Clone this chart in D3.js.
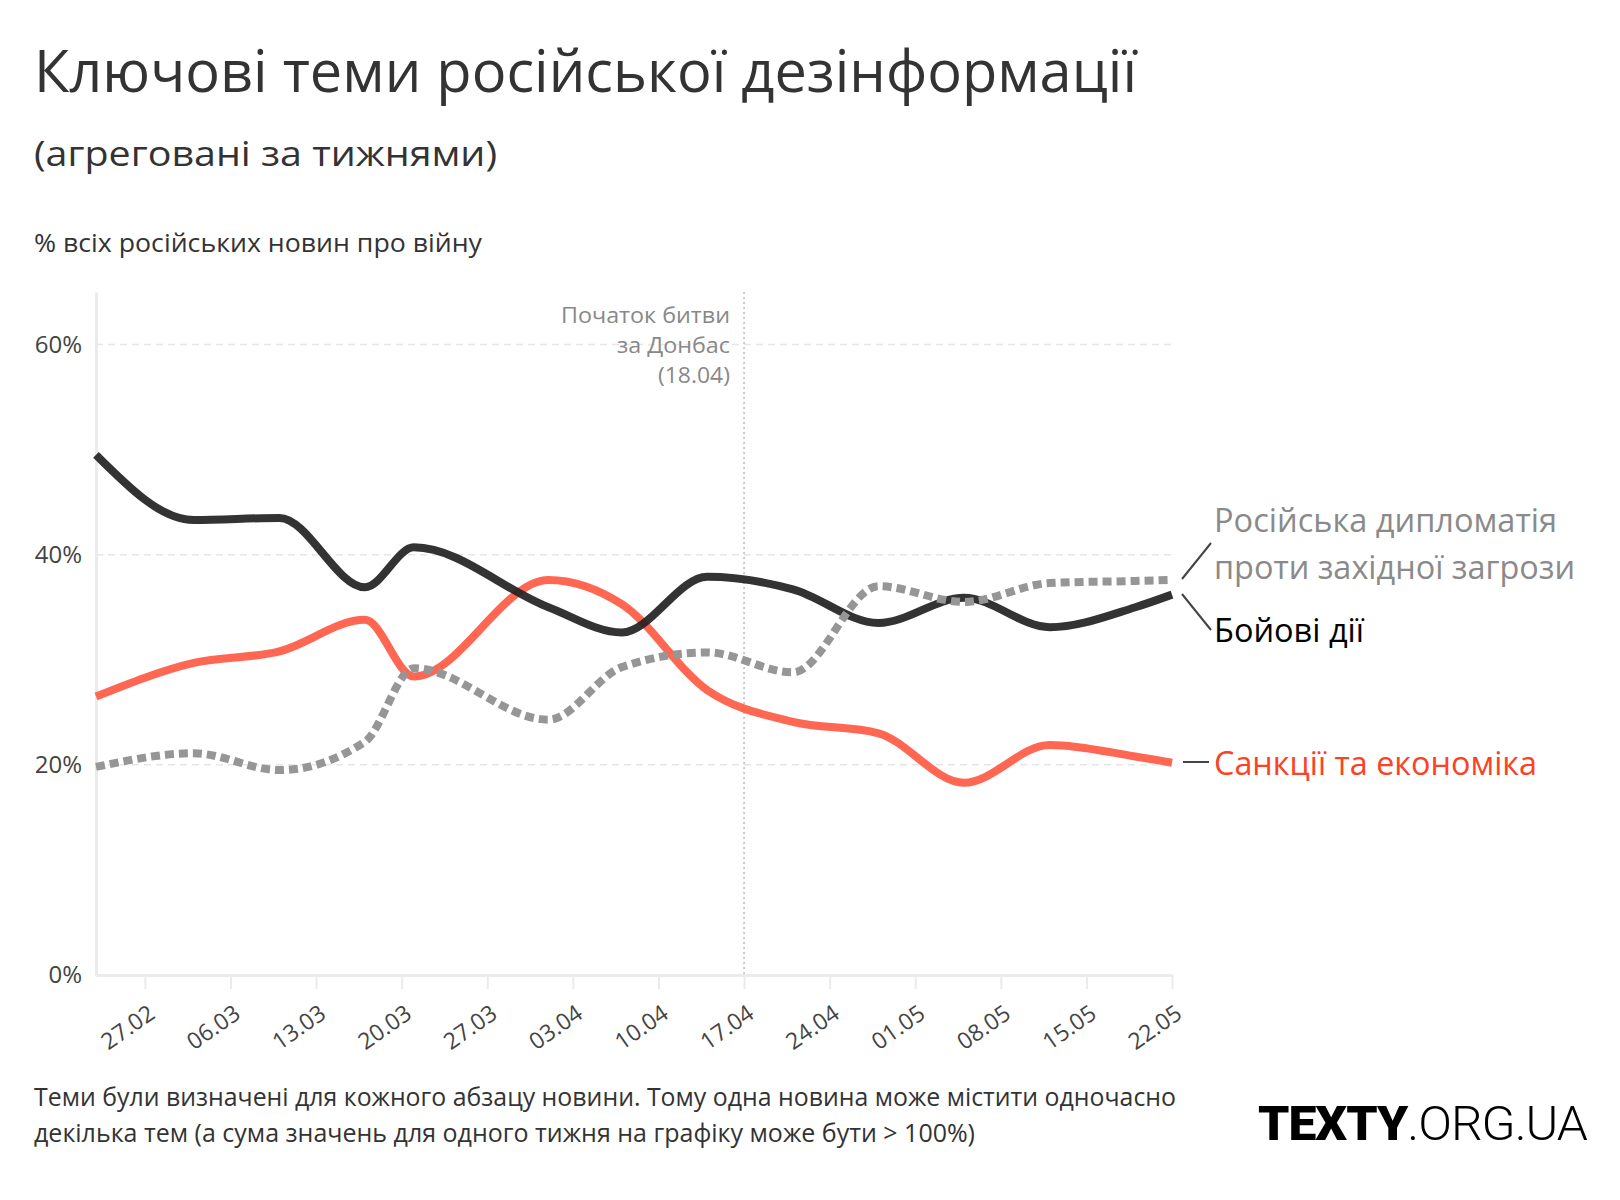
<!DOCTYPE html>
<html>
<head>
<meta charset="utf-8">
<script src="https://cdn.jsdelivr.net/npm/d3@7"></script>
<style>
  html, body { margin: 0; padding: 0; background: #fff; }
  svg { display: block; font-family: "Open Sans", "Noto Sans", sans-serif; }
</style>
</head>
<body>
<svg id="chart" width="1620" height="1200"></svg>
<script>
// ---- data ----
const dates = ["2022-02-23","2022-03-03","2022-03-10","2022-03-17","2022-03-21","2022-04-01","2022-04-07",
               "2022-04-14","2022-04-21","2022-04-28","2022-05-05","2022-05-12","2022-05-19","2022-05-22"];
const combat      = [49.5, 43.3, 43.5, 36.9, 40.7, 35.0, 32.6, 37.9, 36.7, 33.5, 35.9, 33.1, 35.0, 36.2];
const sanctions   = [26.5, 29.7, 30.8, 33.8, 28.4, 37.6, 35.3, 27.1, 24.1, 23.0, 18.3, 21.9, 20.8, 20.2];
const diplomacy   = [19.8, 21.1, 19.5, 22.2, 29.2, 24.3, 29.3, 30.7, 28.8, 37.0, 35.5, 37.3, 37.5, 37.6];
const xTickDates  = ["2022-02-27","2022-03-06","2022-03-13","2022-03-20","2022-03-27","2022-04-03","2022-04-10",
                     "2022-04-17","2022-04-24","2022-05-01","2022-05-08","2022-05-15","2022-05-22"];
const yTicks      = [0, 20, 40, 60];
const eventDate   = "2022-04-17";
const eventLabel  = ["Початок битви", "за Донбас", "(18.04)"];
const seriesNames = { diplomacy: ["Російська дипломатія", "проти західної загрози"], combat: "Бойові дії", sanctions: "Санкції та економіка" };

const parse = d3.timeParse("%Y-%m-%d");
const svg = d3.select("#chart");

const x = d3.scaleTime().domain([parse("2022-02-23"), parse("2022-05-22")]).range([96, 1172]);
const y = d3.scaleLinear().domain([0, 65]).range([975, 292]);

// helper: text with fixed width
function fitText(sel, w) {
  sel.attr("textLength", w).attr("lengthAdjust", "spacingAndGlyphs");
  return sel;
}

// ---- titles ----
fitText(svg.append("text").attr("x", 34).attr("y", 92).attr("font-size", 59).attr("fill", "#333")
  .text("Ключові теми російської дезінформації"), 1103);
fitText(svg.append("text").attr("x", 34).attr("y", 166).attr("font-size", 35).attr("fill", "#333")
  .text("(агреговані за тижнями)"), 463);
fitText(svg.append("text").attr("x", 34).attr("y", 252).attr("font-size", 25).attr("fill", "#333")
  .text("% всіх російських новин про війну"), 448);

// ---- grid ----
svg.append("g").selectAll("line").data(yTicks.filter(d => d > 0)).join("line")
  .attr("x1", 96).attr("x2", 1172).attr("y1", d => y(d)).attr("y2", d => y(d))
  .attr("stroke", "#e6e6e6").attr("stroke-width", 1.5).attr("stroke-dasharray", "7,5");

// axes
const yAxis = svg.append("g").attr("transform", "translate(96,0)")
  .call(d3.axisLeft(y).tickValues(yTicks).tickFormat(d => d + "%").tickSize(0).tickPadding(14));
yAxis.select(".domain").attr("stroke", "#ebebeb").attr("stroke-width", 3);
yAxis.selectAll("text").attr("font-size", 24).attr("fill", "#444").attr("font-family", "Open Sans");

const xAxis = svg.append("g").attr("transform", "translate(0,975)")
  .call(d3.axisBottom(x).tickValues(xTickDates.map(parse)).tickFormat(d3.timeFormat("%d.%m")).tickSize(14).tickSizeOuter(0));
xAxis.select(".domain").attr("stroke", "#ebebeb").attr("stroke-width", 3);
xAxis.selectAll(".tick line").attr("stroke", "#ebebeb").attr("stroke-width", 2);
xAxis.selectAll("text").attr("font-size", 23).attr("fill", "#444").attr("font-family", "Open Sans")
  .attr("text-anchor", "end").attr("dy", 0).attr("y", 0)
  .attr("transform", "translate(11,42) rotate(-35)");

// event line
svg.append("line").attr("x1", x(parse(eventDate))).attr("x2", x(parse(eventDate)))
  .attr("y1", 292).attr("y2", 975).attr("stroke", "#aaa").attr("stroke-width", 1.2).attr("stroke-dasharray", "2,3");
const evW = [169, 113, 72];
eventLabel.forEach((t, i) => {
  fitText(svg.append("text").attr("x", 730).attr("y", 323 + i * 30).attr("text-anchor", "end")
    .attr("font-size", 22).attr("fill", "#888").text(t), evW[i]);
});

// ---- lines ----
const line = d3.line().x((d, i) => x(parse(dates[i]))).y(d => y(d)).curve(d3.curveMonotoneX);

svg.append("path").attr("d", line(sanctions)).attr("fill", "none")
  .attr("stroke", "#ff6753").attr("stroke-width", 8);
svg.append("path").attr("d", line(combat)).attr("fill", "none")
  .attr("stroke", "#222").attr("stroke-opacity", 0.92).attr("stroke-width", 8);
svg.append("path").attr("d", line(diplomacy)).attr("fill", "none")
  .attr("stroke", "#969696").attr("stroke-width", 8).attr("stroke-dasharray", "9,5");

// ---- labels ----
const lab = svg.append("g");
lab.append("line").attr("x1", 1182).attr("y1", 579).attr("x2", 1211).attr("y2", 543).attr("stroke", "#444").attr("stroke-width", 2);
lab.append("line").attr("x1", 1182).attr("y1", 594).attr("x2", 1211).attr("y2", 630).attr("stroke", "#444").attr("stroke-width", 2);
lab.append("line").attr("x1", 1183).attr("y1", 762).attr("x2", 1209).attr("y2", 762).attr("stroke", "#444").attr("stroke-width", 2);

fitText(lab.append("text").attr("x", 1214).attr("y", 532).attr("font-size", 33).attr("fill", "#8a8a8a").text(seriesNames.diplomacy[0]), 343);
fitText(lab.append("text").attr("x", 1214).attr("y", 579).attr("font-size", 33).attr("fill", "#8a8a8a").text(seriesNames.diplomacy[1]), 361);
fitText(lab.append("text").attr("x", 1214).attr("y", 642).attr("font-size", 33).attr("fill", "#000").text(seriesNames.combat), 150);
fitText(lab.append("text").attr("x", 1214).attr("y", 775).attr("font-size", 33).attr("fill", "#fb4226").text(seriesNames.sanctions), 323);

// ---- footnote ----
fitText(svg.append("text").attr("x", 34).attr("y", 1106).attr("font-size", 25).attr("fill", "#333")
  .text("Теми були визначені для кожного абзацу новини. Тому одна новина може містити одночасно"), 1142);
fitText(svg.append("text").attr("x", 34).attr("y", 1142).attr("font-size", 25).attr("fill", "#333")
  .text("декілька тем (а сума значень для одного тижня на графіку може бути > 100%)"), 941);

// ---- logo ----
const logo = svg.append("text").attr("x", 1258).attr("y", 1140).attr("font-family", "Roboto, Inter, sans-serif")
  .attr("font-size", 49).attr("fill", "#000");
logo.append("tspan").attr("font-weight", 900).attr("letter-spacing", -1).text("TEXTY");
logo.append("tspan").attr("font-weight", 300).attr("letter-spacing", -1).text(".ORG.UA");
fitText(logo, 329);
</script>
</body>
</html>
